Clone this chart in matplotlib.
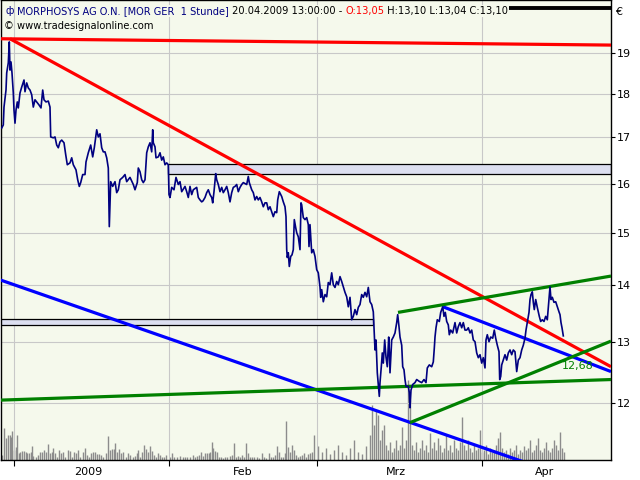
import matplotlib
matplotlib.use('Agg')
import matplotlib.pyplot as plt
from matplotlib.patches import Rectangle
import matplotlib.ticker as mticker

# ---------------- data ----------------
# time axis = chart bar position (hourly bars, left to right)
price_t = [1.7,3.3,4,6,6.7,8.3,9.3,10,11,12,13.3,14,15,16,17.3,18.3,20,21.7,24,25,26.7,28.3,30,31.7,33.3,35,36.7,39,41,42.7,44,46,48.3,50,
           50.7,53.3,55,56.7,58.3,60,61.7,64,65.7,67.3,70,71.7,73.3,76,77.7,79.3,80.7,82.7,85,86,88.3,90.7,92.7,94.3,96.7,98.3,100,
           101.7,103.3,105,106.7,108.3,109,109.3,110.7,112.7,115,116.7,118.3,120,122.7,125,126.7,130,133.3,135,137.3,138.3,140,141.7,
           143.3,145,146.7,148.3,150,151.7,152.7,153.3,155,156,158.3,160,161.7,163.3,165,166.7,168.3,169,170,171.7,174,176,178.3,180,
           181.7,185,186.7,188.3,190,191.7,193.3,196.7,198.3,200,201.7,203,205,206.7,208.3,210,211.7,212.7,214,215.7,216.7,218.3,220,
           221.7,223.3,225,226.7,228.3,230,231.7,233.3,235,236.7,238.3,240,241.7,243.3,246.7,248.3,249.3,251.7,253.3,255,256.7,258.3,
           260,261.7,263.3,265,266.7,268.3,270,271.7,273.3,275,276.7,277.7,279.3,281.7,283.3,285,286,286.7,287.3,288.3,289.3,290.7,292,
           293.3,294.3,295.7,296.7,298.3,300,301,301.7,303.3,305,306.7,308.3,309,310,311.7,313.3,315,316.7,318.3,320,320.7,321.7,323.3,
           325,326.7,328.3,330,331.7,333.3,335,336.7,338.3,340,341.7,343.3,345,346.7,348.3,350,351.7,353.3,355,356.7,358.3,360,361.7,
           363.3,365,366.7,368.3,370,371.7,373.3,374,375,376,377.3,378.3,379.3,380,381.3,382.3,383.3,384.7,386,387.3,388.7,389.3,390,
           391.7,393.3,395,396.7,397.7,399,400,401.7,402.7,404,405,406,408.3,409.3,410,411,412.7,415,416.7,419.3,421.7,424,426,427.3,
           429.3,431.7,433.3,434.3,435,436,437.3,439.3,440.7,442.7,444,445.3,446.7,448.3,449.3,450.7,452.7,455,456.7,458.3,460,461.7,
           463.3,465,466.7,468.3,470,471.7,473.3,475,476.7,478.3,480,481.7,483.3,485,486,487.3,489,490.7,492.7,494.3,495.7,497.3,499,
           499.7,500.7,501.7,503.3,505,506.7,508.3,510,511.7,513.3,515,516.7,518.3,520,521.7,523.3,525,526,527.3,529,530,531,532.3,
           533.3,534.3,535.7,537.3,539.3,540.7,542.3,544,545.7,547.3,549,550,551,552.3,554,555.7,557.3,559,560,561,562,563.3]
price = [17.21,17.28,17.69,18.09,18.50,18.75,19.27,18.57,18.77,18.50,18.02,17.62,17.32,17.62,17.81,17.67,18.02,18.16,18.33,18.05,
         18.26,18.14,18.09,17.98,17.69,17.86,17.81,17.74,17.67,18.09,17.86,17.81,17.83,17.69,
         17.01,16.99,17.01,16.83,16.77,16.90,16.94,16.88,16.62,16.40,16.44,16.55,16.40,16.29,16.08,15.94,16.02,16.19,16.19,16.46,
         16.66,16.83,16.57,16.77,17.17,17.01,17.08,
         16.77,16.68,16.68,16.55,16.33,15.52,15.12,16.04,15.94,16.04,15.81,15.87,16.08,16.13,16.19,16.04,16.13,15.98,15.87,16.02,
         16.33,16.25,16.08,16.02,16.08,16.66,16.79,16.88,16.68,17.17,16.88,16.79,16.55,16.57,16.66,16.50,16.57,16.40,16.44,16.40,
         15.77,15.71,15.92,15.87,16.13,15.98,16.04,
         15.83,15.94,15.83,15.71,15.94,15.77,15.87,15.92,15.71,15.66,15.62,15.64,15.71,15.81,15.87,15.77,15.71,15.60,15.83,16.21,
         16.08,15.98,15.83,
         15.92,15.81,15.87,15.94,15.81,15.62,15.81,15.92,15.94,15.98,15.83,15.92,15.98,16.02,15.98,16.15,16.02,15.87,15.81,15.66,
         15.73,15.66,
         15.71,15.62,15.52,15.60,15.60,15.46,15.52,15.42,15.32,15.42,15.40,15.66,15.83,15.73,15.62,15.52,15.32,14.67,14.52,14.61,
         14.35,14.54,14.57,
         14.67,15.26,15.10,15.00,14.92,14.67,15.60,15.56,15.30,15.26,15.30,15.16,14.73,15.16,14.61,14.67,14.54,14.29,14.23,13.97,
         13.78,13.92,13.70,
         13.83,13.79,14.05,14.01,14.23,14.01,13.96,14.07,14.01,14.16,14.07,13.97,13.87,13.79,13.61,13.78,13.38,13.44,13.56,13.47,
         13.60,13.65,13.83,
         13.78,13.87,13.79,13.96,13.70,13.65,13.52,13.26,12.86,13.03,12.48,12.29,12.10,12.32,12.58,12.81,12.64,13.03,12.74,12.58,
         13.08,12.86,12.48,
         13.03,13.08,13.15,13.33,13.47,13.26,13.08,12.94,12.58,12.53,12.37,12.26,12.26,12.16,11.92,12.20,12.29,12.32,12.37,12.34,
         12.32,12.37,12.32,12.56,
         12.61,12.58,12.66,12.89,13.08,13.24,13.38,13.35,13.51,13.61,13.44,13.51,13.35,13.29,13.12,13.20,13.15,13.33,13.15,13.26,
         13.33,13.24,
         13.33,13.20,13.20,13.24,13.15,13.20,13.03,13.00,12.81,12.73,12.78,12.64,12.73,12.56,13.03,13.12,13.00,13.08,13.06,13.20,
         13.06,12.94,12.83,
         12.37,12.42,12.61,12.69,12.78,12.69,12.81,12.86,12.78,12.86,12.83,12.50,12.69,12.73,12.86,12.94,13.06,13.20,13.33,13.51,
         13.74,13.83,13.88,
         13.69,13.56,13.74,13.60,13.44,13.35,13.38,13.35,13.44,13.38,13.74,13.97,13.74,13.78,13.69,13.70,13.61,13.52,13.47,13.33,
         13.24,13.10]

vol_t = [2,4,6,8,10,11,12,14,16,17,19,20,22,24,26,27,29,31,32,33,36,38,40,42,44,46,48,50,52,53,55,57,59,61,63,65,68,70,72,74,
         76,78,80,83,85,87,89,91,93,95,97,99,101,103,106,108,110,112,114,115,117,119,121,123,126,128,130,133,135,137,138,140,142,
         144,146,148,150,152,154,156,158,160,162,164,166,170,172,174,177,180,183,185,187,190,193,195,197,199,201,203,205,207,209,
         210,212,213,215,217,219,221,223,225,227,230,232,234,236,238,240,242,244,246,248,250,252,254,257,259,262,264,266,269,271,
         273,275,277,279,281,283,285,286,288,290,292,294,296,298,300,302,304,306,308,310,312,314,318,
         322,326,330,334,338,342,346,350,354,358,362,366,370,372,374,376,378,380,382,384,386,388,390,392,394,396,398,400,402,404,
         406,408,410,412,414,416,418,420,422,424,426,428,430,432,434,436,438,440,442,444,446,448,450,452,454,456,458,460,462,464,
         466,468,470,472,474,476,478,480,482,484,486,488,490,492,494,496,498,500,502,504,506,508,510,512,514,516,518,520,522,524,
         526,528,530,532,534,536,538,540,542,544,546,548,550,552,554,556,558,560,562,564]
volume = [5,32,22,25,25,23,29,10,13,25,7,8,9,9,8,7,7,8,14,4,3,5,8,8,10,8,16,7,8,12,7,3,10,7,8,3,10,9,3,8,
          7,10,3,8,12,5,3,7,8,8,6,6,5,3,7,24,10,11,11,17,8,11,7,8,3,7,5,3,4,7,10,3,8,
          15,11,8,14,9,5,3,7,5,3,3,5,3,7,3,3,4,3,3,3,3,5,3,4,5,8,4,7,7,7,
          8,18,12,9,8,3,3,2,3,3,4,5,17,3,4,3,5,3,17,7,3,3,3,3,2,7,3,2,7,3,
          3,5,14,8,3,3,7,39,13,8,15,10,5,3,4,5,7,3,6,7,8,25,14,
          8,12,6,10,15,8,5,12,20,8,6,14,25,55,35,50,45,20,30,35,15,10,18,8,12,20,10,15,33,12,
          20,80,60,15,10,18,8,12,20,10,15,8,27,12,18,10,22,15,8,12,25,10,15,8,20,12,10,18,43,15,
          10,20,12,8,15,10,12,30,8,10,15,6,12,8,10,15,22,28,12,8,10,6,12,8,10,15,6,10,8,14,
          10,12,20,8,10,15,22,10,8,12,18,10,8,12,20,15,10,28,12,8]

month_ticks = [13.5, 168.5, 317, 481.5]
month_label_pos = [88, 243, 396, 545]
month_labels = ['2009', 'Feb', 'Mrz', 'Apr']
price_ticks = [12, 13, 14, 15, 16, 17, 18, 19]

# trend lines: (t0, p0, t1, p1)
red_lines = [(0, 19.35, 611, 19.19), (10, 19.35, 611, 12.58)]
blue_lines = [(0, 14.10, 540, 11.02), (443, 13.61, 611, 12.50)]
green_lines = [(0, 12.04, 611, 12.37), (398, 13.51, 611, 14.17), (410, 11.69, 611, 13.01)]
# zones: (t0, t1, low, high)
zones = [(168, 611, 16.20, 16.41), (0, 373, 13.29, 13.40)]
top_bar = (500, 611, 20.14)
last_label = (562, 12.59, '12,68')

title_parts = [('MORPHOSYS AG O.N. [MOR GER  1 Stunde]', '#000080'),
               (' 20.04.2009 13:00:00 - ', 'black'),
               ('O:13,05', 'red'),
               (' H:13,10 L:13,04 C:13,10', 'black')]

# ---------------- figure ----------------
BG = '#f5f9ec'
FONT = 'DejaVu Sans'
plt.rcParams['font.family'] = [FONT]
fig = plt.figure(figsize=(6.4, 4.8), dpi=100)
fig.patch.set_facecolor('white')
rect = [1/640, 1 - 460/480, 610/640, 460/480]
axv = fig.add_axes(rect, zorder=0)
ax = fig.add_axes(rect, zorder=1)

XLIM = (1, 611)
YLIM = (11.13, 20.36)

# volume
axv.set_facecolor(BG)
axv.set_xlim(*XLIM)
axv.set_ylim(0, 460)
axv.vlines(vol_t, 0, volume, colors='#8c8c8c', lw=1.0)
axv.set_xticks([]); axv.set_yticks([])
for s in axv.spines.values():
    s.set_visible(False)

# main
ax.set_facecolor('none')
ax.set_yscale('log')
ax.set_xlim(*XLIM)
ax.set_ylim(*YLIM)
ax.yaxis.set_major_locator(mticker.FixedLocator(price_ticks))
ax.yaxis.set_minor_locator(mticker.NullLocator())
ax.yaxis.set_major_formatter(mticker.FixedFormatter([str(v) for v in price_ticks]))
ax.yaxis.tick_right()
ax.tick_params(axis='y', which='major', direction='out', length=3, width=0.8, pad=1.5,
               labelsize=8, colors='black')
ax.set_xticks(month_ticks)
ax.set_xticklabels([''] * len(month_ticks))
ax.set_xticks(month_label_pos, minor=True)
ax.set_xticklabels(month_labels, minor=True)
ax.tick_params(axis='x', which='major', direction='out', length=4, width=0.8)
ax.tick_params(axis='x', which='minor', length=0, pad=5, labelsize=8)
ax.grid(True, which='major', color='#c8c8c8', lw=0.8, zorder=0)
ax.set_axisbelow(True)
for s in ax.spines.values():
    s.set_color('black'); s.set_linewidth(1.0)

for (t0, t1, lo, hi) in zones:
    ax.add_patch(Rectangle((t0, lo), t1 - t0, hi - lo, facecolor='#dcdff0',
                           edgecolor='black', lw=0.9, zorder=2))

for lines, col in ((red_lines, '#ff0000'), (blue_lines, '#0000ff'), (green_lines, '#008000')):
    for (t0, p0, t1, p1) in lines:
        ax.plot([t0, t1], [p0, p1], color=col, lw=2.3, solid_capstyle='butt', zorder=3)

ax.plot(price_t, price, color='#000080', lw=1.2, zorder=4)

ax.plot([top_bar[0], top_bar[1]], [top_bar[2], top_bar[2]], color='black', lw=2.8,
        solid_capstyle='butt', zorder=5)

ax.text(last_label[0], last_label[1], last_label[2], color='#008000', fontsize=8,
        va='center', ha='left', zorder=6)

# title
TS = 7.1
ax.text(4 / 610, 1 - 11 / 460, 'ф', transform=ax.transAxes, color='#000080',
        fontsize=TS, va='center', ha='left', zorder=6)
prev = ax.text(16 / 610, 1 - 11 / 460, title_parts[0][0], transform=ax.transAxes,
               color=title_parts[0][1], fontsize=TS, va='center', ha='left', zorder=6,
               bbox=dict(facecolor=BG, edgecolor='none', pad=0.5))
for txt, col in title_parts[1:]:
    prev = ax.annotate(txt, xy=(1, 0.5), xycoords=prev, color=col, fontsize=TS,
                       va='center', ha='left', zorder=6,
                       bbox=dict(facecolor=BG, edgecolor='none', pad=0.5))
ax.text(3 / 610, 1 - 26 / 460, '© www.tradesignalonline.com', transform=ax.transAxes,
        color='black', fontsize=TS, va='center', ha='left', zorder=6)

fig.text(615 / 640, 1 - 12 / 480, '€', fontsize=8, va='center', ha='left')

fig.savefig('out.png', dpi=100, facecolor='white')
